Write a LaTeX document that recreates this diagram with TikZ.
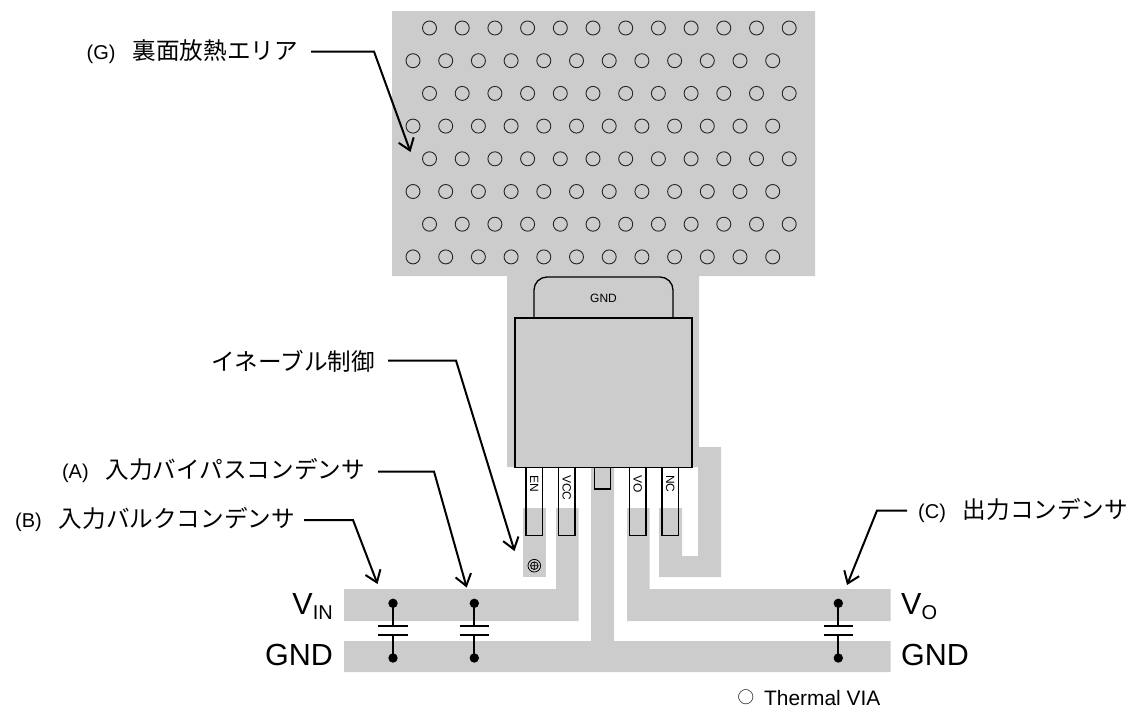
\documentclass[tikz,border=0pt]{standalone}
\usepackage{fontspec}
\usetikzlibrary{arrows.meta}
\setmainfont{Liberation Sans}
\newfontfamily\jp[Scale=1.18]{Noto Sans CJK JP}
\definecolor{copper}{HTML}{CCCCCC}
\newcommand{\fsz}[1]{\fontsize{#1}{#1}\selectfont}
\tikzset{
  copperfill/.style={fill=copper,draw=none},
  outline/.style={draw=black,line width=1.3pt},
  viahole/.style={draw=black!85,line width=0.9pt,fill=none},
  callout/.style={draw=black,line width=2pt,line join=miter,-{Straight Barb[length=11pt,width=16pt,line width=2pt]}},
  labeltext/.style={inner sep=0pt,font=\fsz{20}},
  railtext/.style={inner sep=0pt,font=\fsz{30.5}},
  pintext/.style={inner sep=0pt,font=\fsz{12},rotate=-90,anchor=west},
  capline/.style={draw=black,line width=2pt},
  capdot/.style={fill=black,draw=none}
}
\begin{document}
\begin{tikzpicture}[x=1pt,y=-1pt]
\useasboundingbox (0,0) rectangle (1132,707);
% copper
\fill[copperfill] (392,11) -- (815,11) -- (815,276) -- (699,276) -- (699,447) -- (721,447) -- (721,577) -- (659,577) -- (659,508) -- (682,508) -- (682,556) -- (698,556) -- (698,467) -- (614,467) -- (614,641) -- (890.5,641) -- (890.5,672) -- (344,672) -- (344,641) -- (591,641) -- (591,467) -- (507,467) -- (507,276) -- (392,276) -- cycle;
\fill[copperfill] (344,589) -- (556,589) -- (556,508) -- (578.5,508) -- (578.5,621) -- (344,621) -- cycle;
\fill[copperfill] (627,508) -- (649.5,508) -- (649.5,589) -- (890.5,589) -- (890.5,621) -- (627,621) -- cycle;
\fill[copperfill] (523,508) rectangle (546,577);
% thermal vias
\foreach \yy in {28,93.4,158.8,224.2} \foreach \i in {0,...,11} \draw[viahole] (429.5+\i*32.7,\yy) circle (7);
\foreach \yy in {60.7,126.1,191.5,256.9} \foreach \i in {0,...,11} \draw[viahole] (413+\i*32.7,\yy) circle (7);
% package
\draw[outline,fill=copper] (534,318) [rounded corners=13pt] -- (534,277) -- (673,277) [sharp corners] -- (673,318);
\node[inner sep=0pt,font=\fsz{12}] (tabgnd) at (603.5,298) {GND};
\draw[outline] (515,318) rectangle (692,467.5);
\draw[outline] (526,467.5) rectangle (542.5,535.5);
\draw[outline] (558.5,467.5) rectangle (575,535.5);
\draw[outline] (594.5,467.5) rectangle (610.5,489);
\draw[outline] (629.5,467.5) rectangle (646,535.5);
\draw[outline] (662,467.5) rectangle (678.5,535.5);
\node[pintext] (pinEN) at (534.3,475) {EN};
\node[pintext] (pinVCC) at (566.7,475) {VCC};
\node[pintext] (pinVO) at (637.7,475) {VO};
\node[pintext] (pinNC) at (670.2,475) {NC};
% enable via
\draw[line width=0.8pt] (534.3,565.7) circle (6.3) circle (3.8) (530.5,565.7) -- (538.1,565.7) (534.3,561.9) -- (534.3,569.5);
% capacitors
\foreach \n/\cx in {a/393,b/474.3,c/838.3}{
  \coordinate (\n top) at (\cx,603.3);
  \coordinate (\n pu) at (\cx,626);
  \coordinate (\n pl) at (\cx,635.3);
  \coordinate (\n bot) at (\cx,658);
  \draw[capline] (\n top) -- (\n pu) ([xshift=-14.7pt]\n pu) -- ([xshift=14.7pt]\n pu);
  \draw[capline] (\n bot) -- (\n pl) ([xshift=-14.7pt]\n pl) -- ([xshift=14.7pt]\n pl);
  \fill[capdot] (\n top) circle (4.7) (\n bot) circle (4.7);
}
% rail labels
\node[railtext,anchor=base east] (vin) at (333,614.5) {V\fsz{20}\raisebox{-4.5pt}{IN}};
\node[railtext,anchor=base east] (gndl) at (333,665.5) {GND};
\node[railtext,anchor=base west] (vo) at (901,614.5) {V\fsz{20}\raisebox{-4.5pt}{O}};
\node[railtext,anchor=base west] (gndr) at (901,665.5) {GND};
% callouts
\node[labeltext,anchor=east] (lblG) at (298,52) {(G)\hspace{17pt}{\jp 裏面放熱エリア}};
\coordinate (bendG) at (374,51.5); \coordinate (tipG) at (410.5,152);
\draw[callout] ([xshift=13pt]lblG.east |- bendG) -- (bendG) -- (tipG);
\node[labeltext,anchor=east] (lblE) at (375,361) {{\jp イネーブル制御}};
\coordinate (bendE) at (456,360.5); \coordinate (tipE) at (514.5,551);
\draw[callout] ([xshift=13pt]lblE.east |- bendE) -- (bendE) -- (tipE);
\node[labeltext,anchor=east] (lblA) at (365,471) {(A)\hspace{17pt}{\jp 入力バイパスコンデンサ}};
\coordinate (bendA) at (434,471.5); \coordinate (tipA) at (466.7,587.5);
\draw[callout] ([xshift=13pt]lblA.east |- bendA) -- (bendA) -- (tipA);
\node[labeltext,anchor=east] (lblB) at (295,520) {(B)\hspace{17pt}{\jp 入力バルクコンデンサ}};
\coordinate (bendB) at (353,520); \coordinate (tipB) at (377.5,584);
\draw[callout] ([xshift=9pt]lblB.east |- bendB) -- (bendB) -- (tipB);
\node[labeltext,anchor=west] (lblC) at (918,511) {(C)\hspace{17pt}{\jp 出力コンデンサ}};
\coordinate (bendC) at (877,510.5); \coordinate (tipC) at (847,585);
\draw[callout] ([xshift=-11pt]lblC.west |- bendC) -- (bendC) -- (tipC);
% legend
\node[inner sep=0pt,font=\jp\fsz{14}] (legendmark) at (746,697.5) {○};
\node[inner sep=0pt,font=\fsz{20.9},anchor=base west] (legend) at (764,705) {Thermal VIA};
\end{tikzpicture}
\end{document}
